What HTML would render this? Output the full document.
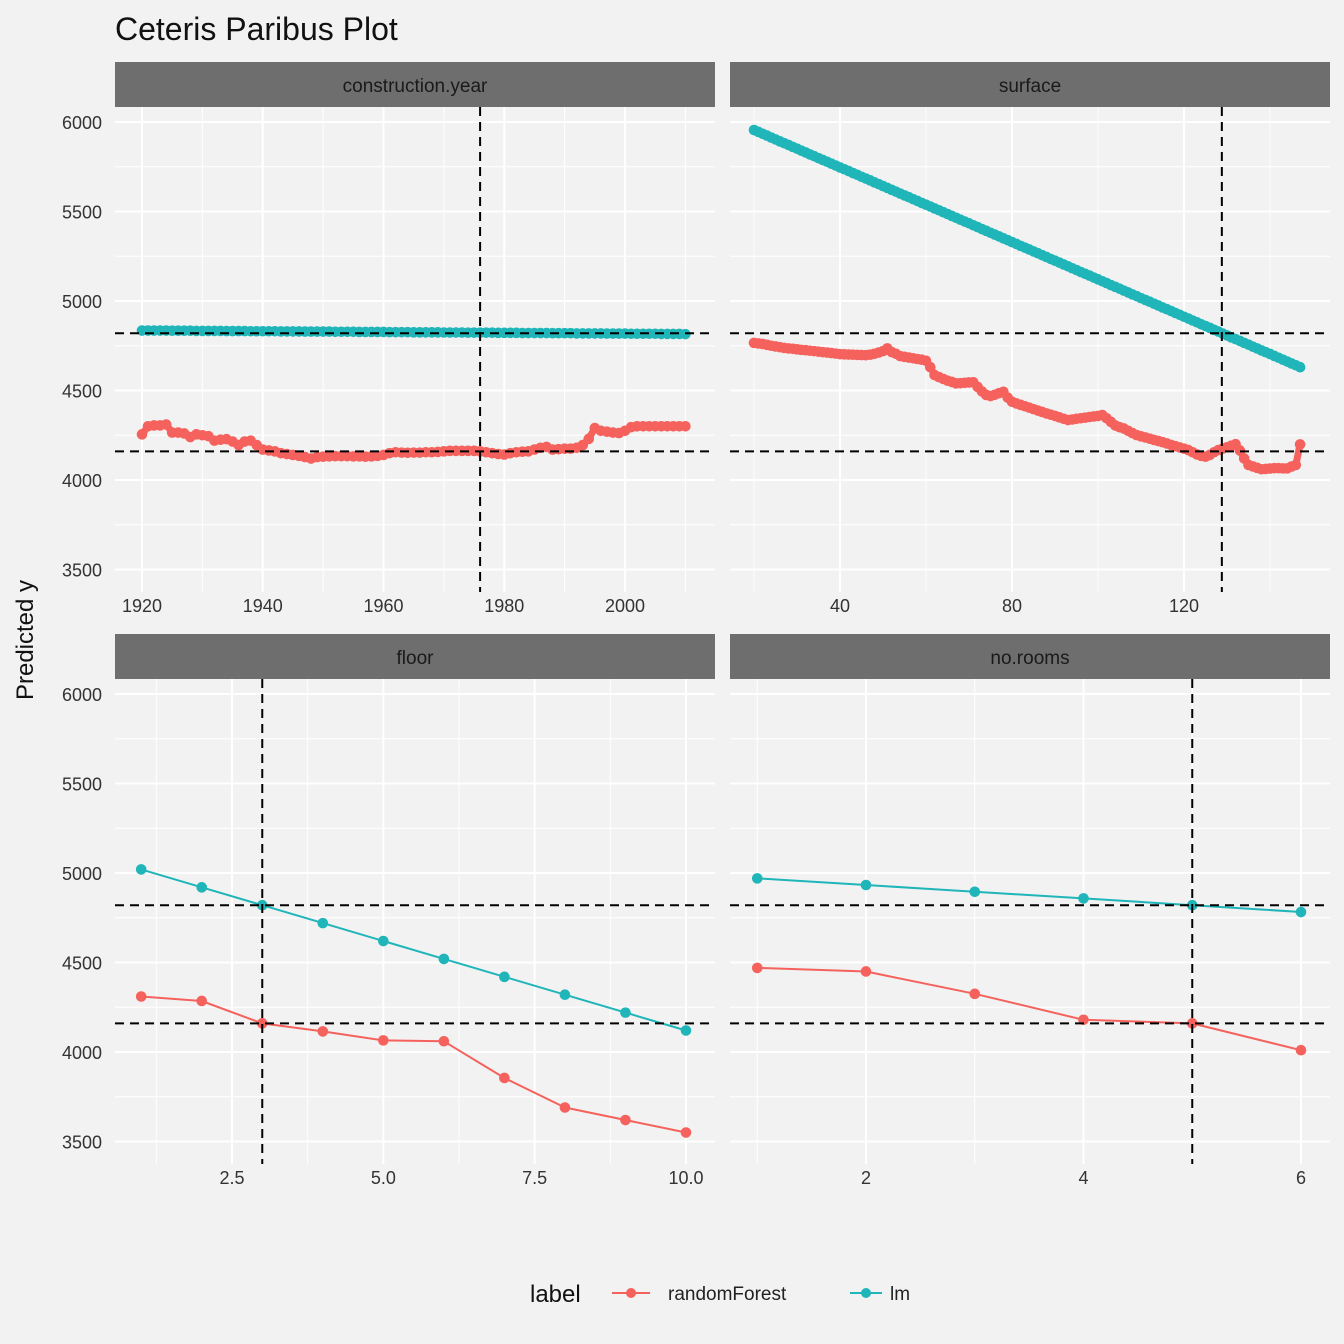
<!DOCTYPE html>
<html><head><meta charset="utf-8"><style>
body{margin:0;background:#f2f2f2;font-family:"Liberation Sans",Arial,sans-serif}
svg{display:block}
</style></head><body>
<svg id="chart" width="1344" height="1344" viewBox="0 0 1344 1344" xmlns="http://www.w3.org/2000/svg">
<rect x="0" y="0" width="1344" height="1344" fill="#f2f2f2"/>
<text x="115" y="40" font-size="32" fill="#111">Ceteris Paribus Plot</text>
<text transform="translate(33,640) rotate(-90)" text-anchor="middle" font-size="24" fill="#111">Predicted y</text>
<g id="panels"></g>
<g>
<text x="530" y="1302" font-size="24" fill="#111">label</text>
<g>
<line x1="612" y1="1293" x2="650" y2="1293" stroke="#F5625D" stroke-width="2"/><circle cx="631" cy="1293" r="5" fill="#F5625D"/>
<text x="668" y="1300" font-size="19" fill="#222">randomForest</text></g>
<g>
<line x1="850" y1="1293" x2="882" y2="1293" stroke="#1FB5B9" stroke-width="2"/><circle cx="866" cy="1293" r="5" fill="#1FB5B9"/>
<text x="890" y="1300" font-size="19" fill="#222">lm</text></g>
</g>
</svg>
<script>
const yTicks=[3500,4000,4500,5000,5500,6000];
const hLines=[4820,4160];
const cyX0=1920;
const cyRf=[4255,4300,4305,4305,4310,4265,4265,4260,4240,4255,4250,4245,4220,4225,4228,4215,4195,4215,4220,4195,4170,4165,4160,4150,4145,4140,4135,4128,4120,4128,4130,4132,4133,4133,4133,4132,4132,4130,4132,4135,4140,4150,4155,4153,4152,4153,4153,4155,4155,4157,4160,4163,4163,4163,4163,4163,4160,4155,4150,4145,4142,4150,4155,4158,4160,4170,4180,4185,4170,4172,4175,4175,4180,4195,4230,4290,4275,4270,4265,4262,4275,4295,4300,4300,4300,4300,4300,4300,4300,4300,4300];
const cyLm=[4835,4835,4835,4835,4835,4834,4834,4834,4834,4833,4833,4833,4833,4833,4832,4832,4832,4832,4831,4831,4831,4831,4831,4830,4830,4830,4830,4829,4829,4829,4829,4829,4828,4828,4828,4828,4827,4827,4827,4827,4827,4826,4826,4826,4826,4825,4825,4825,4825,4825,4824,4824,4824,4824,4823,4823,4823,4823,4823,4822,4822,4822,4822,4821,4821,4821,4821,4821,4820,4820,4820,4820,4819,4819,4819,4819,4819,4818,4818,4818,4818,4817,4817,4817,4817,4817,4816,4816,4816,4816,4815];
const sfX0=20;
const sfRf=[4766,4763,4760,4755,4750,4746,4742,4738,4735,4733,4730,4727,4725,4722,4720,4717,4714,4712,4709,4706,4703,4702,4701,4700,4699,4698,4697,4700,4705,4712,4720,4735,4715,4705,4692,4688,4684,4680,4676,4672,4666,4630,4586,4575,4565,4555,4548,4540,4541,4543,4545,4546,4520,4495,4475,4469,4476,4485,4493,4460,4437,4428,4420,4412,4404,4396,4388,4380,4372,4365,4358,4350,4342,4335,4338,4342,4345,4348,4352,4355,4358,4363,4345,4325,4305,4295,4288,4275,4262,4251,4244,4238,4231,4224,4218,4211,4204,4196,4189,4182,4175,4167,4155,4143,4135,4130,4140,4155,4167,4175,4183,4192,4200,4165,4120,4084,4076,4068,4060,4062,4064,4066,4066,4065,4065,4075,4084,4199];
const sfLmX=[20,21,22,23,24,25,26,27,28,29,30,31,32,33,34,35,36,37,38,39,40,41,42,43,44,45,46,47,48,49,50,51,52,53,54,55,56,57,58,59,60,61,62,63,64,65,66,67,68,69,70,71,72,73,74,75,76,77,78,79,80,81,82,83,84,85,86,87,88,89,90,91,92,93,94,95,96,97,98,99,100,101,102,103,104,105,106,107,108,109,110,111,112,113,114,115,116,117,118,119,120,121,122,123,124,125,126,127,128,129,130,131,132,133,134,135,136,137,138,139,140,141,142,143,144,145,146,147];
const sfLm=[5955,5945,5934,5924,5913,5903,5892,5882,5872,5861,5851,5840,5830,5819,5809,5798,5788,5778,5767,5757,5746,5736,5726,5715,5705,5694,5684,5674,5663,5653,5642,5632,5621,5611,5600,5590,5580,5569,5559,5548,5538,5528,5517,5507,5496,5486,5475,5465,5454,5444,5434,5423,5413,5402,5392,5381,5371,5361,5350,5340,5329,5319,5308,5298,5288,5277,5267,5256,5246,5235,5225,5215,5204,5194,5183,5173,5162,5152,5142,5131,5121,5110,5100,5089,5079,5069,5058,5048,5037,5027,5016,5006,4996,4985,4975,4964,4954,4944,4933,4923,4912,4902,4891,4881,4870,4860,4850,4839,4829,4818,4808,4797,4787,4777,4766,4756,4745,4735,4724,4714,4704,4693,4683,4672,4662,4651,4641,4630];
const flX=[1,2,3,4,5,6,7,8,9,10];
const flRf=[4310,4285,4160,4115,4065,4060,3855,3690,3620,3550];
const flLm=[5020,4920,4820,4720,4620,4520,4420,4320,4220,4120];
const rmX=[1,2,3,4,5,6];
const rmRf=[4470,4450,4325,4180,4160,4010];
const rmLm=[4970,4933,4895,4858,4820,4782];
const RED="#F5625D",CYAN="#1FB5B9";
const NS="http://www.w3.org/2000/svg";
const root=document.getElementById('panels');
function mk(tag,attrs,parent){const e=document.createElementNS(NS,tag);for(const k in attrs)e.setAttribute(k,attrs[k]);parent.appendChild(e);return e;}
function seq(x0,n){const a=[];for(let i=0;i<n;i++)a.push(x0+i);return a;}
const panels=[
 {name:'construction-year',title:'construction.year',px:115,py:62,x0:1920,x1:142,xa:2000,xb:625,major:[1920,1940,1960,1980,2000],minor:[1930,1950,1970,1990,2010],lab:v=>String(v),vline:1976,
  series:[{k:'randomforest',x:seq(cyX0,cyRf.length),y:cyRf,c:RED},{k:'lm',x:seq(cyX0,cyLm.length),y:cyLm,c:CYAN}],dense:true},
 {name:'surface',title:'surface',px:730,py:62,x0:40,x1:840,xa:120,xb:1184,major:[40,80,120],minor:[20,60,100,140],lab:v=>String(v),vline:128.8,
  series:[{k:'randomforest',x:seq(sfX0,sfRf.length),y:sfRf,c:RED},{k:'lm',x:sfLmX,y:sfLm,c:CYAN}],dense:true},
 {name:'floor',title:'floor',px:115,py:634,x0:2.5,x1:232,xa:10,xb:686,major:[2.5,5,7.5,10],minor:[1.25,3.75,6.25,8.75],lab:v=>v.toFixed(1),vline:3,
  series:[{k:'randomforest',x:flX,y:flRf,c:RED},{k:'lm',x:flX,y:flLm,c:CYAN}]},
 {name:'no-rooms',title:'no.rooms',px:730,py:634,x0:2,x1:866,xa:6,xb:1301,major:[2,4,6],minor:[1,3,5],lab:v=>String(v),vline:5,
  series:[{k:'randomforest',x:rmX,y:rmRf,c:RED},{k:'lm',x:rmX,y:rmLm,c:CYAN}]}
];
panels.forEach(p=>{
 const g=mk('g',{},root);
 
 
 const W=600,top=p.py+45,bot=p.py+530;
 const sx=v=>p.x1+(v-p.x0)*(p.xb-p.x1)/(p.xa-p.x0);
 const sy=v=>p.py+60+(6000-v)*447.5/2500;
 const strip=mk('rect',{x:p.px,y:p.py,width:W,height:45,fill:'#6e6e6e'},g);
 
 
 const st=mk('text',{x:p.px+W/2,y:p.py+30,'text-anchor':'middle','font-size':19,fill:'#1a1a1a'},g);
 st.textContent=p.title;
 
 
 [3750,4250,4750,5250,5750].forEach(v=>mk('line',{x1:p.px,x2:p.px+W,y1:sy(v),y2:sy(v),stroke:'#fff','stroke-width':1},g));
 p.minor.forEach(v=>{const x=sx(v);if(x>=p.px&&x<=p.px+W)mk('line',{x1:x,x2:x,y1:top,y2:bot,stroke:'#fff','stroke-width':1},g);});
 yTicks.forEach(v=>{mk('line',{x1:p.px,x2:p.px+W,y1:sy(v),y2:sy(v),stroke:'#fff','stroke-width':2},g);
  if(p.px<200){const t=mk('text',{x:102,y:sy(v)+7,'text-anchor':'end','font-size':18,fill:'#333'},g);t.textContent=v;
   
   }});
 p.major.forEach(v=>{const x=sx(v);mk('line',{x1:x,x2:x,y1:top,y2:bot,stroke:'#fff','stroke-width':2},g);
  const t=mk('text',{x:x,y:bot+20,'text-anchor':'middle','font-size':18,fill:'#333'},g);t.textContent=p.lab(v);
  
  });
 p.series.forEach(s=>{
  const pts=s.x.map((x,i)=>sx(x).toFixed(1)+','+sy(s.y[i]).toFixed(1)).join(' ');
  const pl=mk('polyline',{points:pts,fill:'none',stroke:s.c,'stroke-width':p.dense?7:2,'stroke-linejoin':'round'},g);
  
  
  s.x.forEach((x,i)=>{const c=mk('circle',{cx:sx(x),cy:sy(s.y[i]),r:5.3,fill:s.c},g);
   
   });
 });
 hLines.forEach(v=>{const l=mk('line',{x1:p.px,x2:p.px+W,y1:sy(v),y2:sy(v),stroke:'#000','stroke-width':2,'stroke-dasharray':'9,6'},g);
  
  });
 const vx=sx(p.vline);
 const vl=mk('line',{x1:vx,x2:vx,y1:top,y2:bot,stroke:'#000','stroke-width':2,'stroke-dasharray':'9,6'},g);
 
 
});
</script>
</body></html>
